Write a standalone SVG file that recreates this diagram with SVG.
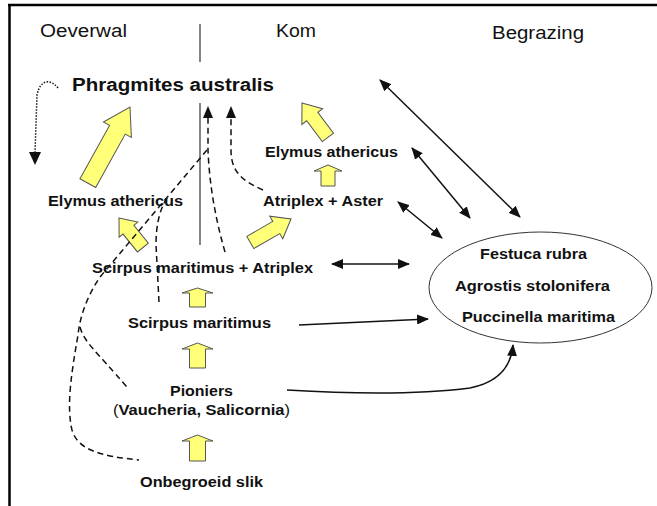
<svg xmlns="http://www.w3.org/2000/svg" width="657" height="506" viewBox="0 0 657 506">
<style>
.h{font-family:"Liberation Sans",Arial,sans-serif;font-size:17.5px;fill:#111}
.b{font-family:"Liberation Sans",Arial,sans-serif;font-size:14.5px;font-weight:bold;fill:#111}
.big{font-family:"Liberation Sans",Arial,sans-serif;font-size:17.5px;font-weight:bold;fill:#111}
.ya{fill:#ffff78;stroke:#555;stroke-width:1}
.ln{fill:none;stroke:#111;stroke-width:1.5}
.ds{fill:none;stroke:#111;stroke-width:1.5;stroke-dasharray:6,4}
.dt{fill:none;stroke:#111;stroke-width:1.5;stroke-dasharray:1.5,1.5}
.sep{stroke:#333;stroke-width:1.2}
</style>
<defs>
<marker id="ah" viewBox="0 0 12 10" refX="11" refY="5" markerWidth="12" markerHeight="10" markerUnits="userSpaceOnUse" orient="auto-start-reverse">
<path d="M0,0 L12,5 L0,10 Z" fill="#111"/>
</marker>
</defs>
<rect width="657" height="506" fill="#fff"/>
<g id="frame">
<line x1="8" y1="5" x2="657" y2="5" stroke="#000" stroke-width="2.5"/>
<line x1="9.5" y1="4" x2="9.5" y2="506" stroke="#000" stroke-width="2.5"/>
<line class="sep" x1="200" y1="24" x2="200" y2="62"/>
<line class="sep" x1="200" y1="103" x2="200" y2="245"/>
</g>
<g id="headers">
<text class="h" x="40" y="37" textLength="87" lengthAdjust="spacingAndGlyphs">Oeverwal</text>
<text class="h" x="276" y="37" textLength="40" lengthAdjust="spacingAndGlyphs">Kom</text>
<text class="h" x="492" y="39" textLength="92" lengthAdjust="spacingAndGlyphs">Begrazing</text>
</g>
<g id="n-phragmites"><text class="big" x="72" y="91" textLength="202" lengthAdjust="spacingAndGlyphs">Phragmites australis</text></g>
<g id="n-elymus-left"><text class="b" x="48" y="206" textLength="135" lengthAdjust="spacingAndGlyphs">Elymus athericus</text></g>
<g id="n-elymus-right"><text class="b" x="265" y="157" textLength="133" lengthAdjust="spacingAndGlyphs">Elymus athericus</text></g>
<g id="n-atriplex-aster"><text class="b" x="263" y="206" textLength="120" lengthAdjust="spacingAndGlyphs">Atriplex + Aster</text></g>
<g id="n-scirpus-atriplex"><text class="b" x="92" y="273" textLength="221" lengthAdjust="spacingAndGlyphs">Scirpus maritimus + Atriplex</text></g>
<g id="n-scirpus"><text class="b" x="128" y="328" textLength="143" lengthAdjust="spacingAndGlyphs">Scirpus maritimus</text></g>
<g id="n-pioniers">
<text class="b" x="170" y="396" textLength="63" lengthAdjust="spacingAndGlyphs">Pioniers</text>
<text class="b" x="113" y="415" textLength="177" lengthAdjust="spacingAndGlyphs"><tspan font-weight="normal">(</tspan>Vaucheria, Salicornia<tspan font-weight="normal">)</tspan></text>
</g>
<g id="n-slik"><text class="b" x="140" y="487" textLength="123" lengthAdjust="spacingAndGlyphs">Onbegroeid slik</text></g>
<g id="n-grazing">
<ellipse cx="540.5" cy="287.5" rx="111.5" ry="55.5" fill="#fff" stroke="#333" stroke-width="1"/>
<text class="b" x="480" y="259" textLength="107" lengthAdjust="spacingAndGlyphs">Festuca rubra</text>
<text class="b" x="455" y="291" textLength="155" lengthAdjust="spacingAndGlyphs">Agrostis stolonifera</text>
<text class="b" x="462" y="322" textLength="153" lengthAdjust="spacingAndGlyphs">Puccinella maritima</text>
</g>
<g id="succession-arrows">
<path class="ya" transform="translate(130,107) rotate(29)" d="M0,0 L16,26 L9,26 L9,87 L-9,87 L-9,26 L-16,26 Z"/>
<path class="ya" transform="translate(302,103) rotate(-37)" d="M0,0 L13,17 L7,17 L7,43 L-7,43 L-7,17 L-13,17 Z"/>
<path class="ya" transform="translate(119,218) rotate(-39)" d="M0,0 L12,15 L7,15 L7,38 L-7,38 L-7,15 L-12,15 Z"/>
<path class="ya" transform="translate(291,219) rotate(60)" d="M0,0 L13,17 L7,17 L7,47 L-7,47 L-7,17 L-13,17 Z"/>
<path class="ya" transform="translate(328,165)" d="M0,0 L14,6 L7,6 L7,21 L-7,21 L-7,6 L-14,6 Z"/>
<path class="ya" transform="translate(197.5,288)" d="M0,0 L15.5,5 L8,5 L8,19 L-8,19 L-8,5 L-15.5,5 Z"/>
<path class="ya" transform="translate(197.5,343)" d="M0,0 L15.5,6 L8,6 L8,25 L-8,25 L-8,6 L-15.5,6 Z"/>
<path class="ya" transform="translate(197.5,435)" d="M0,0 L15.5,6 L8,6 L8,26 L-8,26 L-8,6 L-15.5,6 Z"/>
</g>
<g id="connectors">
<line class="ln" x1="380" y1="80" x2="520" y2="217" marker-start="url(#ah)" marker-end="url(#ah)"/>
<line class="ln" x1="412" y1="148" x2="470" y2="218" marker-start="url(#ah)" marker-end="url(#ah)"/>
<line class="ln" x1="398" y1="202" x2="442" y2="238" marker-start="url(#ah)" marker-end="url(#ah)"/>
<line class="ln" x1="332" y1="264" x2="409" y2="264" marker-start="url(#ah)" marker-end="url(#ah)"/>
<line class="ln" x1="299" y1="325" x2="428" y2="319" marker-end="url(#ah)"/>
<path class="ln" d="M287,390 Q400,397 470,388 Q510,380 513,345" marker-end="url(#ah)"/>
<path class="ds" d="M225,252 Q210,200 208,150 L208,117"/>
<path d="M208,106 L213,118 L203,118 Z" fill="#111"/>
<path class="ds" d="M263,190 C240,180 231,170 231,150 L231,117"/>
<path d="M231,106 L236,118 L226,118 Z" fill="#111"/>
<path class="ds" d="M207,150 L100,277 C88,295 80,315 78,335 C72,370 66,405 72,430 C78,450 100,456 139,460"/>
<path class="ds" d="M80,327 C84,342 95,350 127,387"/>
<path class="ds" d="M159,302 L156,245 Q156,215 167,198"/>
<path class="dt" d="M58,88 C50,78 40,80 37,95 L35,153"/>
<path d="M35,165 L29,152 L41,152 Z" fill="#111"/>
</g>
</svg>
